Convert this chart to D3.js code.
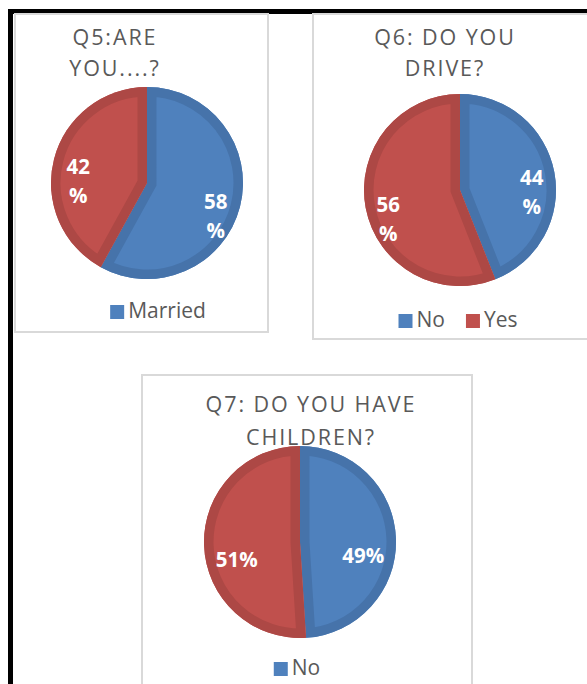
<!DOCTYPE html>
<html>
<head>
<meta charset="utf-8">
<script src="https://cdn.jsdelivr.net/npm/d3@7"></script>
<style>
  html, body { margin: 0; padding: 0; background: #fff; }
  svg { display: block; }
</style>
</head>
<body>
<svg id="chart" width="587" height="684"></svg>
<script>
// Survey answers, one small set per question
const q5Title = ["Q5:ARE", "YOU....?"];
const q5Categories = ["Married", "Not married"];
const q5Values = [58, 42];
const q5Legend = ["Married"];

const q6Title = ["Q6: DO YOU", "DRIVE?"];
const q6Categories = ["No", "Yes"];
const q6Values = [44, 56];
const q6Legend = ["No", "Yes"];

const q7Title = ["Q7: DO YOU HAVE", "CHILDREN?"];
const q7Categories = ["No", "Yes"];
const q7Values = [49, 51];
const q7Legend = ["No"];

const fillColor = d3.scaleOrdinal().range(["#4F81BD", "#C0504D"]);
const edgeColor = d3.scaleOrdinal().range(["#4673AA", "#AD4845"]);

const svg = d3.select("#chart");

// Page frame: heavy black rule along the top and left side
svg.append("rect").attr("x", 8).attr("y", 9).attr("width", 579).attr("height", 5).attr("fill", "#000");
svg.append("rect").attr("x", 8).attr("y", 9).attr("width", 5).attr("height", 675).attr("fill", "#000");

const charts = [
  { id: "q5", title: q5Title, cats: q5Categories, vals: q5Values, legend: q5Legend,
    frame: [15, 14, 253, 318], cx: 147, cy: 183, r: 96, labelR: 0.74,
    titleX: 115, titleY: [45, 76], wrap: true, legendX: 158, legendY: 318 },
  { id: "q6", title: q6Title, cats: q6Categories, vals: q6Values, legend: q6Legend,
    frame: [313, 14, 290, 325], cx: 460, cy: 190, r: 96, labelR: 0.76,
    titleX: 445, titleY: [45, 76], wrap: true, legendX: 458, legendY: 327 },
  { id: "q7", title: q7Title, cats: q7Categories, vals: q7Values, legend: q7Legend,
    frame: [142, 375, 330, 330], cx: 300, cy: 542, r: 96, labelR: 0.66,
    titleX: 311, titleY: [412, 445], wrap: false, legendX: 297, legendY: 675 }
];

const pie = d3.pie().sort(null).value(d => d.v);

charts.forEach(c => {
  const g = svg.append("g");
  const [fx, fy, fw, fh] = c.frame;
  g.append("rect").attr("x", fx).attr("y", fy).attr("width", fw).attr("height", fh)
    .attr("fill", "#fff").attr("stroke", "#D9D9D9").attr("stroke-width", 2);

  // Title, two centred lines
  g.selectAll("text.title").data(c.title).join("text")
    .attr("class", "title")
    .attr("x", c.titleX).attr("y", (d, i) => c.titleY[i])
    .attr("text-anchor", "middle")
    .attr("font-family", "'Open Sans', sans-serif")
    .attr("font-size", 21.5).attr("letter-spacing", 1.9)
    .attr("fill", "#595959")
    .text(d => d);

  const data = c.cats.map((k, i) => ({ k, v: c.vals[i] }));
  const arcs = pie(data);
  const arc = d3.arc().innerRadius(0).outerRadius(c.r);
  const pg = g.append("g").attr("transform", `translate(${c.cx},${c.cy})`);

  // Each slice: a fill plus a darker inner edge band clipped to the slice itself
  arcs.forEach((a, i) => {
    const cid = `${c.id}-clip-${i}`;
    pg.append("clipPath").attr("id", cid).append("path").attr("d", arc(a));
    pg.append("path").attr("d", arc(a)).attr("fill", fillColor(i));
    pg.append("path").attr("d", arc(a))
      .attr("fill", "none")
      .attr("stroke", edgeColor(i)).attr("stroke-width", 19)
      .attr("stroke-linejoin", "miter")
      .attr("clip-path", `url(#${cid})`);
  });

  // Percentage labels
  const labelArc = d3.arc().innerRadius(c.r * c.labelR).outerRadius(c.r * c.labelR);
  arcs.forEach(a => {
    const [lx, ly] = labelArc.centroid(a);
    const lines = c.wrap ? [String(a.data.v), "%"] : [a.data.v + "%"];
    const t = pg.append("text")
      .attr("text-anchor", "middle")
      .attr("font-family", "'Open Sans', sans-serif")
      .attr("font-weight", "bold").attr("font-size", 20.5)
      .attr("fill", "#fff");
    const step = 29;
    const y0 = ly + 16 - (lines.length - 1) * step / 2 + 7;
    lines.forEach((s, j) => {
      t.append("tspan").attr("x", lx).attr("y", y0 + j * step).text(s);
    });
  });

  // Legend, centred on its own anchor below the pie
  const lg = g.append("g");
  let x = 0;
  c.legend.forEach(name => {
    const item = lg.append("g").attr("transform", `translate(${x},0)`);
    item.append("rect").attr("x", 0).attr("y", -13).attr("width", 14).attr("height", 14)
      .attr("fill", fillColor(c.cats.indexOf(name)));
    const txt = item.append("text").attr("x", 18).attr("y", 0)
      .attr("font-family", "'Open Sans', sans-serif")
      .attr("font-size", 21).attr("fill", "#595959").text(name);
    const w = 18 + txt.node().getComputedTextLength();
    x += w + 21;
  });
  const total = x - 21;
  lg.attr("transform", `translate(${c.legendX - total / 2},${c.legendY})`);
});
</script>
</body>
</html>
